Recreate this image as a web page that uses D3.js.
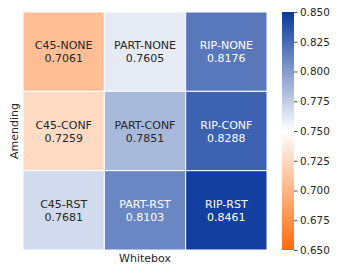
<!DOCTYPE html>
<html>
<head>
<meta charset="utf-8">
<script src="https://cdn.jsdelivr.net/npm/d3@7"></script>
<style>
  body { margin: 0; background: #fff; }
  text { font-family: "DejaVu Sans", sans-serif; }
</style>
</head>
<body>
<svg id="chart" width="341" height="273"></svg>
<script>
// heatmap of whitebox vs amending accuracy
var whitebox = ["C45", "PART", "RIP"];
var amending = ["NONE", "CONF", "RST"];
var values = [
  [0.7061, 0.7605, 0.8176],
  [0.7259, 0.7851, 0.8288],
  [0.7681, 0.8103, 0.8461]
];
var colorTicks = [0.650, 0.675, 0.700, 0.725, 0.750, 0.775, 0.800, 0.825, 0.850];

var svg = d3.select("#chart");
var m = {left: 23, top: 12, right: 267, bottom: 250};

var x = d3.scaleBand().domain(whitebox).range([m.left, m.right]);
var y = d3.scaleBand().domain(amending).range([m.top, m.bottom]);
var color = d3.scaleLinear()
    .domain([0.65, 0.75, 0.85])
    .range(["#ff6a0a", "#ffffff", "#09389c"])
    .clamp(true);

var cells = [];
amending.forEach(function(a, i) {
    whitebox.forEach(function(w, j) {
        cells.push({w: w, a: a, v: values[i][j]});
    });
});

var g = svg.selectAll("g.cell").data(cells).enter().append("g").attr("class", "cell");

g.append("rect")
    .attr("x", function(d) { return x(d.w); })
    .attr("y", function(d) { return y(d.a); })
    .attr("width", x.bandwidth())
    .attr("height", y.bandwidth())
    .attr("fill", function(d) { return color(d.v); })
    .attr("stroke", "#fff")
    .attr("stroke-width", 1);

// dark text on light cells, white on dark ones (relative luminance)
var lin = function(c) {
    c = c / 255;
    return c <= 0.03928 ? c / 12.92 : Math.pow((c + 0.055) / 1.055, 2.4);
};
var txtColor = function(d) {
    var c = d3.rgb(color(d.v));
    var lum = 0.2126 * lin(c.r) + 0.7152 * lin(c.g) + 0.0722 * lin(c.b);
    return lum > 0.408 ? "#262626" : "#fff";
};

g.append("text")
    .attr("x", function(d) { return x(d.w) + x.bandwidth() / 2; })
    .attr("y", function(d) { return y(d.a) + y.bandwidth() / 2 - 2.5; })
    .attr("text-anchor", "middle")
    .attr("font-size", 11)
    .attr("fill", txtColor)
    .text(function(d) { return d.w + "-" + d.a; });

g.append("text")
    .attr("x", function(d) { return x(d.w) + x.bandwidth() / 2; })
    .attr("y", function(d) { return y(d.a) + y.bandwidth() / 2 + 10.5; })
    .attr("text-anchor", "middle")
    .attr("font-size", 11)
    .attr("fill", txtColor)
    .text(function(d) { return d.v.toFixed(4); });

// axis titles
svg.append("text")
    .attr("x", (m.left + m.right) / 2)
    .attr("y", 262)
    .attr("text-anchor", "middle")
    .attr("font-size", 11)
    .attr("fill", "#262626")
    .text("Whitebox");

svg.append("text")
    .attr("transform", "translate(18," + (m.top + m.bottom) / 2 + ") rotate(-90)")
    .attr("text-anchor", "middle")
    .attr("font-size", 11)
    .attr("fill", "#262626")
    .text("Amending");

// colorbar
var cb = {x: 282, w: 12};
var cy = d3.scaleLinear().domain([0.65, 0.85]).range([m.bottom, m.top]);

var grad = svg.append("defs").append("linearGradient")
    .attr("id", "cbgrad")
    .attr("x1", 0).attr("y1", 1).attr("x2", 0).attr("y2", 0);
d3.range(0, 1.0001, 0.05).forEach(function(t) {
    grad.append("stop")
        .attr("offset", t)
        .attr("stop-color", color(0.65 + t * 0.2));
});

svg.append("rect")
    .attr("x", cb.x)
    .attr("y", m.top)
    .attr("width", cb.w)
    .attr("height", m.bottom - m.top)
    .attr("fill", "url(#cbgrad)");

var axis = d3.axisRight(cy)
    .tickValues(colorTicks)
    .tickFormat(d3.format(".3f"))
    .tickSize(3.5)
    .tickPadding(2.5);

var ax = svg.append("g")
    .attr("transform", "translate(" + (cb.x + cb.w) + ",0)")
    .call(axis);
ax.select(".domain").remove();
ax.selectAll("line").attr("stroke", "#262626").attr("stroke-width", 0.8);
ax.selectAll("text")
    .attr("font-size", 10.4)
    .attr("font-family", "DejaVu Sans, sans-serif")
    .attr("fill", "#262626");
</script>
</body>
</html>
